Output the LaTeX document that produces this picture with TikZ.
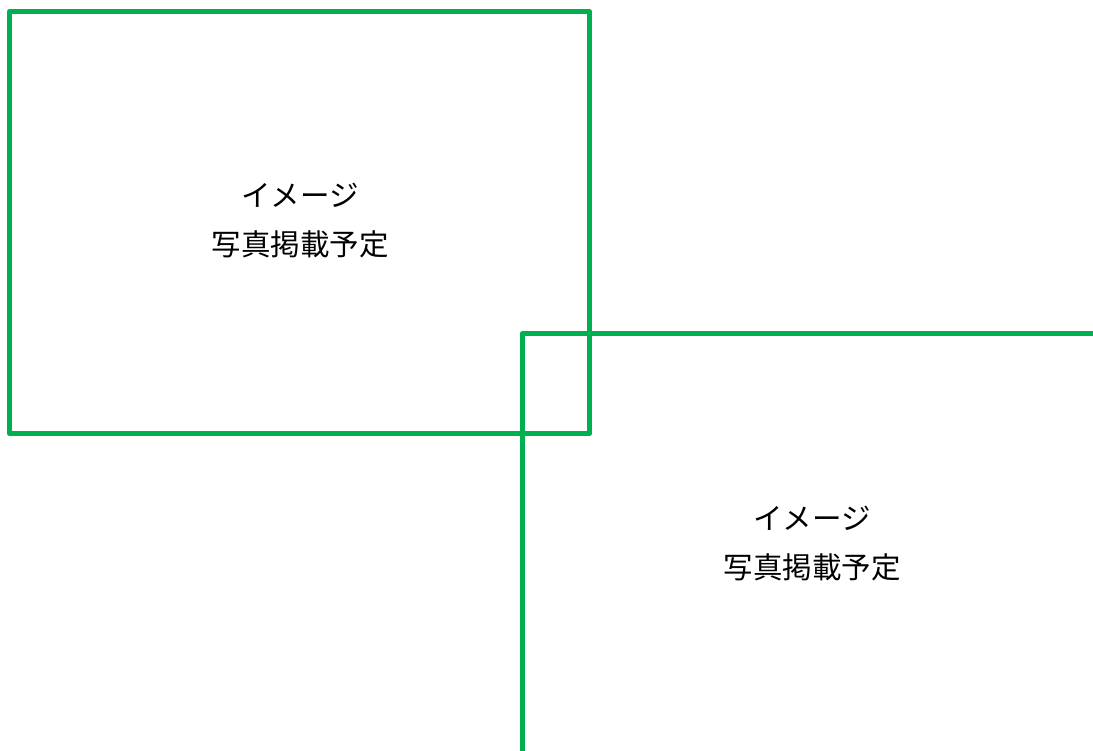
\documentclass[tikz,border=0pt]{standalone}
\usepackage{fontspec}
\newfontfamily\jpfont{Noto Sans CJK JP}
\definecolor{framegreen}{HTML}{00B050}
\tikzset{
  photoframe/.style={draw=framegreen, line width=5pt, line join=round},
  caption/.style={font=\jpfont\fontsize{29.5}{49}\selectfont, align=center, text=black}
}
\begin{document}
\begin{tikzpicture}[x=1pt,y=-1pt]
			\clip (0,0) rectangle (1093,751);
			\fill[white] (0,0) rectangle (1093,751);
			\draw[photoframe] (9.5,11.5) rectangle (589.5,433.5);
			\node[caption] (photoA) at (300,221) {イメージ\\写真掲載予定};
			\draw[photoframe] (1110,334) -- (522,334) -- (522,770);
			\node[caption] (photoB) at (812,544) {イメージ\\写真掲載予定};
		\end{tikzpicture}
\end{document}
